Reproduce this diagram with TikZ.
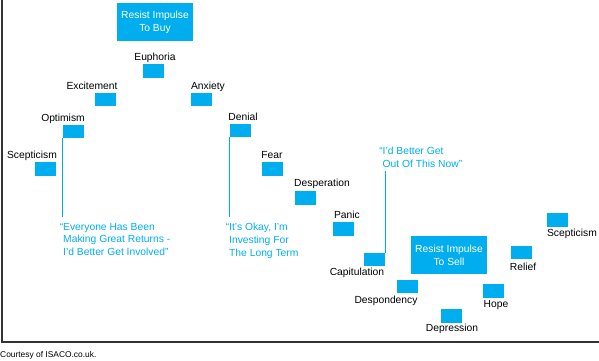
\documentclass[tikz,border=0pt]{standalone}
\usepackage{fontspec}
\setmainfont{Liberation Sans}
\definecolor{isblue}{RGB}{0,174,239}
\definecolor{axisgray}{RGB}{51,51,51}

\begin{document}
\begin{tikzpicture}[x=1pt,y=-1pt,
	stage/.style={fill=isblue,inner sep=0pt,minimum width=21pt,minimum height=13.5pt},
	resist/.style={fill=isblue,inner sep=0pt,minimum width=76pt,minimum height=38pt,text=white,align=center,font=\fontsize{10.3}{13}\selectfont},
	lbl/.style={anchor=base,inner sep=0pt,font=\fontsize{10.3}{12}\selectfont},
	saying/.style={anchor=north west,inner sep=0pt,text=isblue,align=left,font=\fontsize{10.3}{12.7}\selectfont},
	lead/.style={draw=isblue,line width=1.3pt}]

	\useasboundingbox (0,0) rectangle (599,360);

	% frame
	\coordinate (top) at (2,0);
	\coordinate (corner) at (2,342);
	\coordinate (end) at (599,342);
	\draw[axisgray,line width=1.2pt] (top) -- (corner) -- (end);

	% the two big boxes
	\node[resist] (buy) at (155,22) {Resist Impulse\\To Buy};
	\node[resist] (sell) at (449,255) {Resist Impulse\\To Sell};

	% stages
	\node[stage] (scep1) at (45,169) {};
	\node[stage] (opt) at (73.5,131.5) {};
	\node[stage] (exc) at (105,99.5) {};
	\node[stage] (euph) at (153.5,71) {};
	\node[stage] (anx) at (201.5,99.5) {};
	\node[stage] (den) at (240,130.5) {};
	\node[stage] (fear) at (272.5,169) {};
	\node[stage] (desp) at (305.5,198) {};
	\node[stage] (pan) at (343.5,229) {};
	\node[stage] (cap) at (374.5,259.5) {};
	\node[stage] (dspd) at (407.5,286.5) {};
	\node[stage] (depr) at (451.5,316) {};
	\node[stage] (hope) at (493.5,291) {};
	\node[stage] (rel) at (521.5,252.5) {};
	\node[stage] (scep2) at (557.5,220) {};

	\node[lbl] (scep1t) at (32,158.5) {Scepticism};
	\node[lbl] (optt) at (63,121.5) {Optimism};
	\node[lbl] (exct) at (92,89.5) {Excitement};
	\node[lbl] (eupht) at (155,60.5) {Euphoria};
	\node[lbl] (anxt) at (208,89.5) {Anxiety};
	\node[lbl] (dent) at (243,120.5) {Denial};
	\node[lbl] (feart) at (272,158.5) {Fear};
	\node[lbl] (despt) at (322,186.5) {Desperation};
	\node[lbl] (pant) at (347,218.5) {Panic};
	\node[lbl] (capt) at (357,275.5) {Capitulation};
	\node[lbl] (dspdt) at (386,303.5) {Despondency};
	\node[lbl] (deprt) at (452,331.5) {Depression};
	\node[lbl] (hopet) at (496,307.5) {Hope};
	\node[lbl] (relt) at (523,270.5) {Relief};
	\node[lbl] (scep2t) at (572,236.5) {Scepticism};

	% what people say
	\node[saying] (q1) at (63,223) {\llap{“}Everyone Has Been\\Making Great Returns -\\I’d Better Get Involved”};
	\node[saying] (q2) at (229,223) {\llap{“}It’s Okay, I’m\\Investing For\\The Long Term};
	\node[saying] (q3) at (382.5,147.3) {\llap{“}I’d Better Get\\Out Of This Now”};

	\draw[lead,shorten >=6pt] (opt.south west) -- (opt.south west |- q1.north);
	\draw[lead,shorten >=6pt] (den.south west) -- (den.south west |- q2.north);
	\draw[lead,shorten >=3pt] (cap.north east) -- (cap.north east |- q3.south);

	\node[anchor=base west,inner sep=0pt,font=\fontsize{8.4}{10}\selectfont] (credit) at (0,357) {Courtesy of ISACO.co.uk.};

\end{tikzpicture}
\end{document}
